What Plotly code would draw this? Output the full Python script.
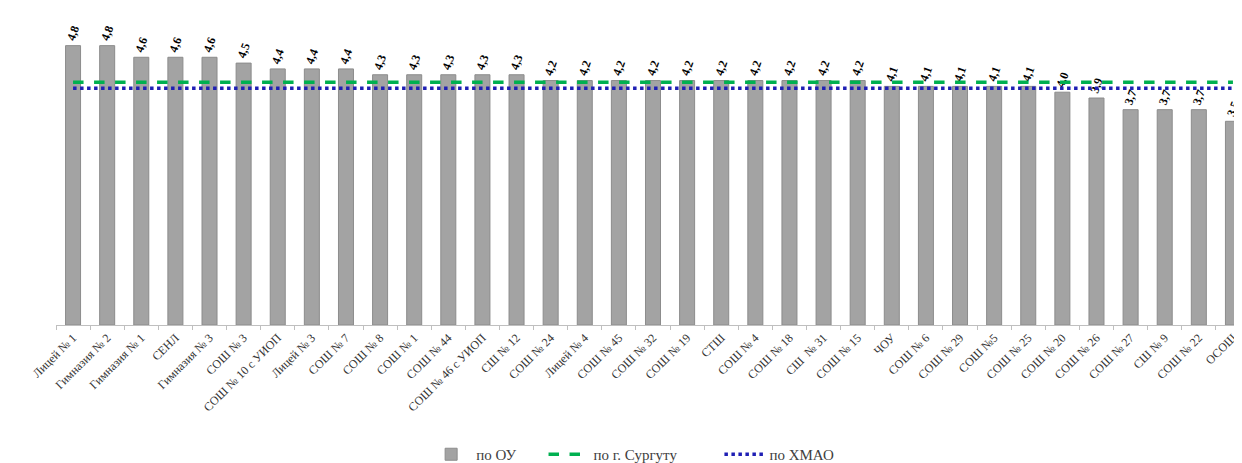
import plotly.graph_objects as go

schools = ["Лицей № 1", "Гимназия № 2", "Гимназия № 1", "СЕНЛ", "Гимназия № 3", "СОШ № 3",
           "СОШ № 10 с УИОП", "Лицей № 3", "СОШ № 7", "СОШ № 8", "СОШ № 1", "СОШ № 44",
           "СОШ № 46 с УИОП", "СШ № 12", "СОШ № 24", "Лицей № 4", "СОШ № 45", "СОШ № 32",
           "СОШ № 19", "СТШ", "СОШ № 4", "СОШ № 18", "СШ  № 31", "СОШ № 15", "ЧОУ",
           "СОШ № 6", "СОШ № 29", "СОШ №5", "СОШ № 25", "СОШ № 20", "СОШ № 26", "СОШ № 27",
           "СШ № 9", "СОШ № 22", "ОСОШ"]
ou_values = [4.8, 4.8, 4.6, 4.6, 4.6, 4.5, 4.4, 4.4, 4.4, 4.3, 4.3, 4.3, 4.3, 4.3,
             4.2, 4.2, 4.2, 4.2, 4.2, 4.2, 4.2, 4.2, 4.2, 4.2, 4.1, 4.1, 4.1, 4.1, 4.1,
             4.0, 3.9, 3.7, 3.7, 3.7, 3.5]
surgut_value = 4.17
hmao_value = 4.07
series_names = ["по ОУ", "по г. Сургуту", "по ХМАО"]

labels = [f"<b>{v:.1f}</b>".replace(".", ",") for v in ou_values]
pad = "\u00a0"

fig = go.Figure()
fig.add_trace(go.Bar(
    x=schools, y=ou_values, name=series_names[0] + pad * 6,
    marker=dict(color="#a3a3a3", line=dict(color="#8c8c8c", width=1)),
    text=labels, textposition="outside", textangle=-70,
    textfont=dict(family="Liberation Serif", size=12, color="#000000"),
    cliponaxis=False,
))
fig.add_trace(go.Scatter(
    x=schools, y=[surgut_value] * len(schools), name=series_names[1] + pad * 10,
    mode="lines", line=dict(color="#00b050", width=3.5, dash="dash"),
))
fig.add_trace(go.Scatter(
    x=schools, y=[hmao_value] * len(schools), name=series_names[2],
    mode="lines", line=dict(color="#1f1fb4", width=3.5, dash="dot"),
))

fig.update_layout(
    width=1242, height=463,
    margin=dict(l=48, r=0, t=26, b=143),
    paper_bgcolor="white", plot_bgcolor="white",
    bargap=0.56,
    showlegend=True,
    legend=dict(orientation="h", x=0.31, xanchor="left", y=-0.445, yanchor="middle",
                font=dict(family="Liberation Serif", size=15, color="#404040"),
                itemwidth=40),
    font=dict(family="Liberation Serif", size=12, color="#404040"),
)
fig.update_xaxes(
    tickangle=-45, showline=True, linecolor="#bfbfbf", linewidth=1,
    ticks="outside", ticklen=4, tickcolor="#bfbfbf", tickson="boundaries",
    tickfont=dict(family="Liberation Serif", size=12, color="#333333"),
    showgrid=False,
)
fig.update_yaxes(range=[0, 5.0], visible=False, showgrid=False)

fig.write_html("out.html")
